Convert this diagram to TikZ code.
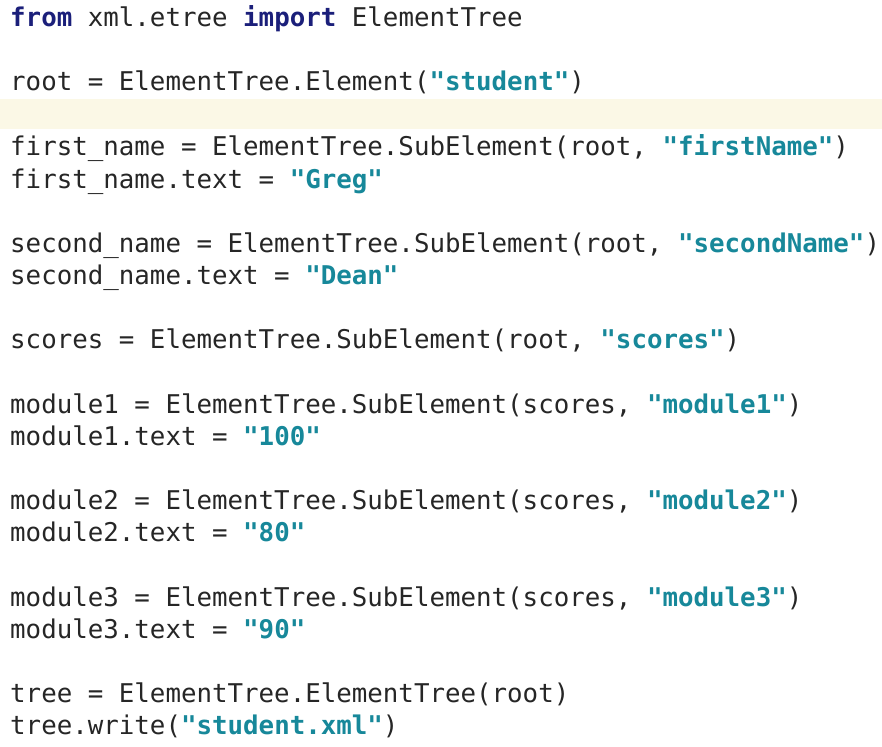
\documentclass[tikz,border=0pt]{standalone}
\usepackage{fontspec}
\setmonofont{DejaVu Sans Mono}
\definecolor{kw}{HTML}{1B1F7A}
\definecolor{st}{HTML}{17889A}
\definecolor{hl}{HTML}{FBF8E6}
\newcommand{\K}[1]{{\bfseries\color{kw}#1}}
\newcommand{\Sq}[1]{{\bfseries\color{st}"#1"}}
\begin{document}
\begin{tikzpicture}[x=1pt,y=1pt,code/.style={anchor=base west,inner sep=0pt,font=\ttfamily\fontsize{25.8}{30}\selectfont,text=black!85}]
\useasboundingbox (0,0) rectangle (882,-746);
\fill[white] (0,0) rectangle (882,-746);
\fill[hl] (0,-99) rectangle (882,-129);
\node[code] (l1) at (10,-27) {\K{from} xml.etree \K{import} ElementTree};
\node[code] (l2) at (10,-91) {root = ElementTree.Element(\Sq{student})};
\node[code] (l3) at (10,-156) {first\_name = ElementTree.SubElement(root, \Sq{firstName})};
\node[code] (l4) at (10,-188) {first\_name.text = \Sq{Greg}};
\node[code] (l5) at (10,-252) {second\_name = ElementTree.SubElement(root, \Sq{secondName})};
\node[code] (l6) at (10,-284) {second\_name.text = \Sq{Dean}};
\node[code] (l7) at (10,-348) {scores = ElementTree.SubElement(root, \Sq{scores})};
\node[code] (l8) at (10,-413) {module1 = ElementTree.SubElement(scores, \Sq{module1})};
\node[code] (l9) at (10,-445) {module1.text = \Sq{100}};
\node[code] (l10) at (10,-509) {module2 = ElementTree.SubElement(scores, \Sq{module2})};
\node[code] (l11) at (10,-541) {module2.text = \Sq{80}};
\node[code] (l12) at (10,-606) {module3 = ElementTree.SubElement(scores, \Sq{module3})};
\node[code] (l13) at (10,-638) {module3.text = \Sq{90}};
\node[code] (l14) at (10,-702) {tree = ElementTree.ElementTree(root)};
\node[code] (l15) at (10,-734) {tree.write(\Sq{student.xml})};
\end{tikzpicture}
\end{document}
